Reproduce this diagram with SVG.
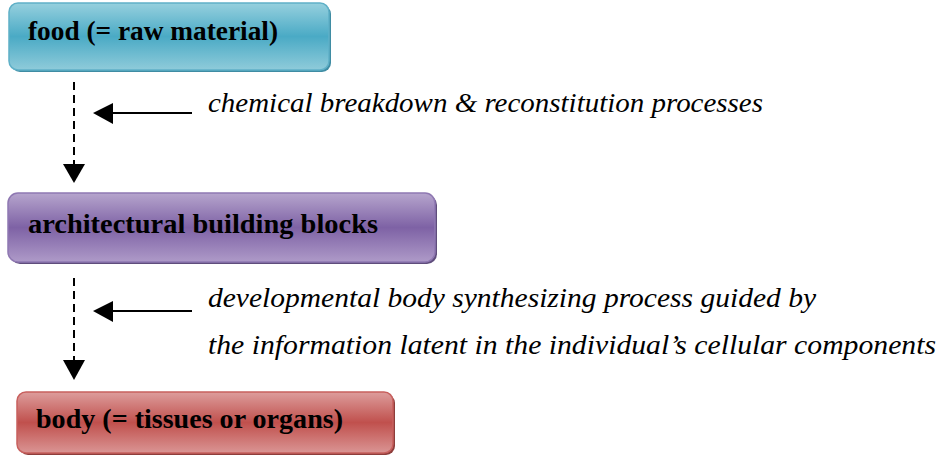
<svg xmlns="http://www.w3.org/2000/svg" width="941" height="459" viewBox="0 0 941 459">
<defs>
<linearGradient id="gBlue" x1="0" y1="0" x2="0" y2="1">
<stop offset="0" stop-color="#96d0de"/><stop offset="0.5" stop-color="#4aaac5"/><stop offset="1" stop-color="#8fcbda"/>
</linearGradient>
<linearGradient id="gPurple" x1="0" y1="0" x2="0" y2="1">
<stop offset="0" stop-color="#b6a5cd"/><stop offset="0.5" stop-color="#7e62a5"/><stop offset="1" stop-color="#ae9ac8"/>
</linearGradient>
<linearGradient id="gRed" x1="0" y1="0" x2="0" y2="1">
<stop offset="0" stop-color="#dd9d9c"/><stop offset="0.5" stop-color="#c0504d"/><stop offset="1" stop-color="#da9594"/>
</linearGradient>
</defs>
<style>
.lbl{font-family:"Liberation Serif","DejaVu Serif",serif;font-weight:bold;font-size:27px;fill:#000}
.note{font-family:"Liberation Serif","DejaVu Serif",serif;font-style:italic;font-size:28px;fill:#000}
.dash{stroke:#000;stroke-width:2;stroke-dasharray:8 5;fill:none}
.line{stroke:#000;stroke-width:2;fill:none}
.head{fill:#000}
</style>
<g id="food">
<rect x="11" y="5" width="320" height="67" rx="9" fill="#3f8ca3"/>
<rect x="9" y="3" width="320" height="67" rx="9" fill="url(#gBlue)" stroke="#5fb0c7" stroke-width="1.5"/>
<text class="lbl" x="28" y="40" textLength="250" lengthAdjust="spacingAndGlyphs">food (= raw material)</text>
</g>
<g id="blocks">
<rect x="10" y="195" width="427" height="69" rx="10" fill="#5f4d7c"/>
<rect x="8" y="193" width="427" height="69" rx="10" fill="url(#gPurple)" stroke="#8f78b2" stroke-width="1.5"/>
<text class="lbl" x="28" y="233" textLength="350" lengthAdjust="spacingAndGlyphs">architectural building blocks</text>
</g>
<g id="body">
<rect x="19" y="394" width="376" height="61" rx="9" fill="#8e3d3b"/>
<rect x="17" y="392" width="376" height="61" rx="9" fill="url(#gRed)" stroke="#c8605e" stroke-width="1.5"/>
<text class="lbl" x="36" y="428" textLength="307" lengthAdjust="spacingAndGlyphs">body (= tissues or organs)</text>
</g>
<g id="connectors">
<line class="dash" x1="74" y1="82" x2="74" y2="165"/>
<polygon class="head" points="63,164 85,164 74,183"/>
<line class="line" x1="192" y1="113" x2="110" y2="113"/>
<polygon class="head" points="93,113 113,103 113,124"/>
<line class="dash" x1="74" y1="278" x2="74" y2="361"/>
<polygon class="head" points="63,360 85,360 74,380"/>
<line class="line" x1="192" y1="311" x2="110" y2="311"/>
<polygon class="head" points="93,311 113,301 113,322"/>
</g>
<g id="notes">
<text class="note" x="208" y="112" textLength="555" lengthAdjust="spacingAndGlyphs">chemical breakdown &amp; reconstitution processes</text>
<text class="note" x="208" y="307" textLength="608" lengthAdjust="spacingAndGlyphs">developmental body synthesizing process guided by</text>
<text class="note" x="208" y="354" textLength="728" lengthAdjust="spacingAndGlyphs">the information latent in the individual’s cellular components</text>
</g>
</svg>
